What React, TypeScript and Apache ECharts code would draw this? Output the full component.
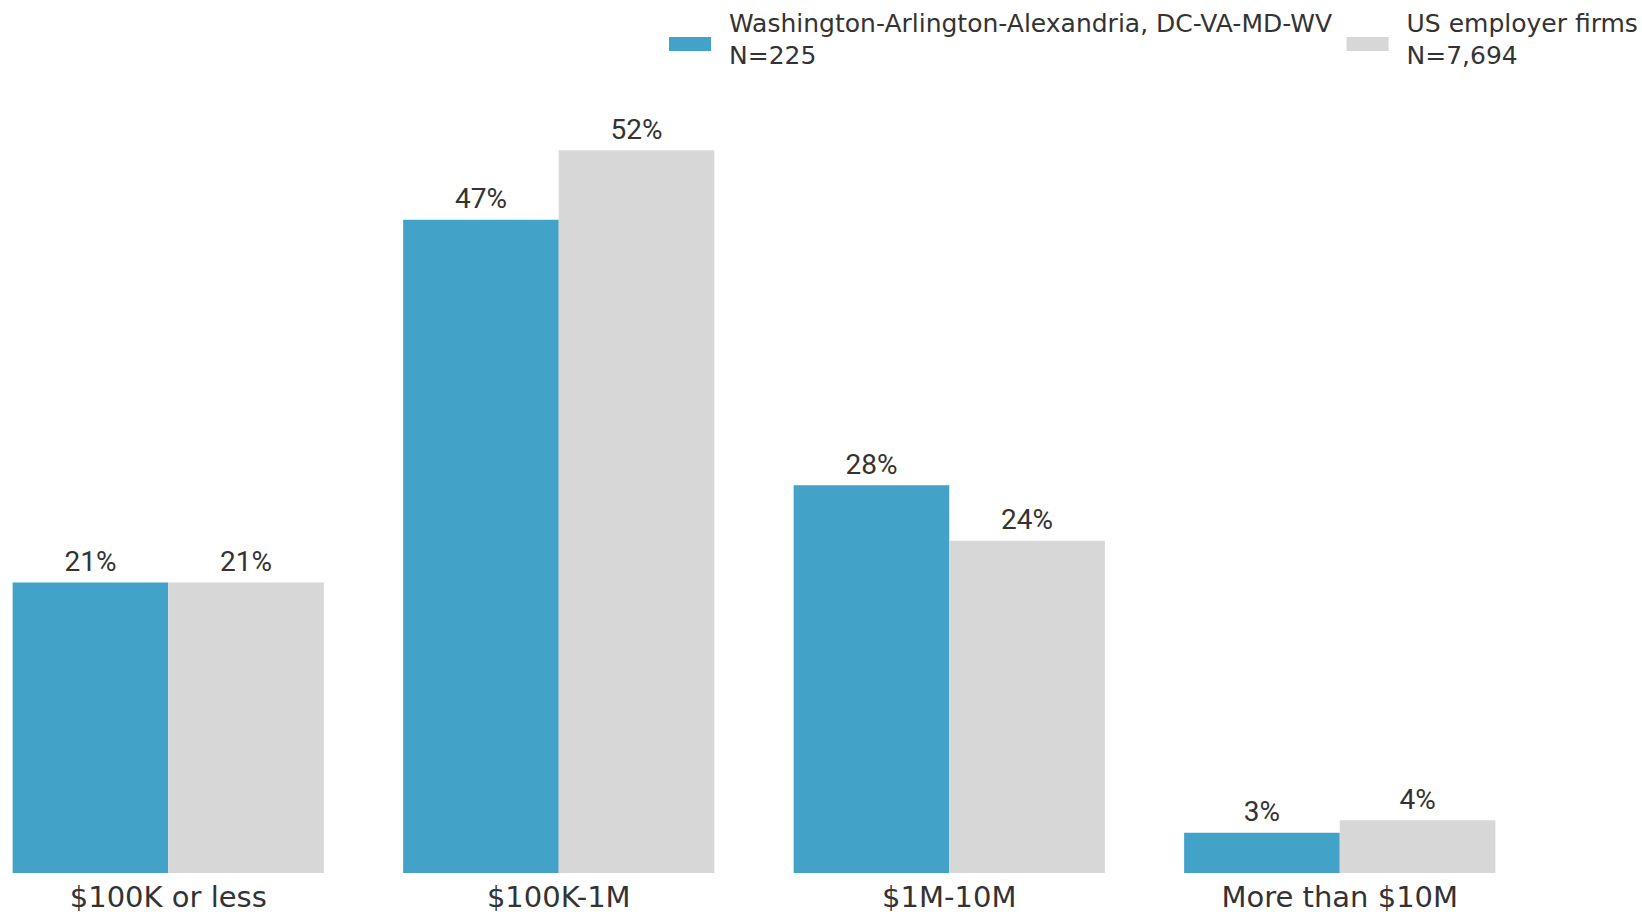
import React, { useEffect, useRef } from "react";
import * as echarts from "echarts";

const categories = ["$100K or less", "$100K-1M", "$1M-10M", "More than $10M"];
const seriesNames = [
  "Washington-Arlington-Alexandria, DC-VA-MD-WV\nN=225",
  "US employer firms\nN=7,694",
];
const washingtonValues = [20.9, 47.0, 27.9, 2.9];
const usValues = [20.9, 52.0, 23.9, 3.8];

const BLUE = "#43A2C7";
const GRAY = "#D7D7D7";
const TEXT = "#333333";
const SHIFT = 27;

export default function App() {
  const ref = useRef<HTMLDivElement>(null);
  useEffect(() => {
    if (!ref.current) return;
    const chart = echarts.init(ref.current, undefined, { renderer: "svg" });
    const label = {
      show: true,
      position: "top",
      distance: 7,
      color: TEXT,
      fontFamily: "Roboto",
      fontSize: 28,
      formatter: (p: any) => Math.round(p.value) + "%",
    };
    chart.setOption({
      animation: false,
      legend: {
        left: 669 + SHIFT,
        top: 10.5,
        padding: 0,
        itemWidth: 42,
        itemHeight: 14,
        itemGap: 14.5,
        icon: "rect",
        selectedMode: false,
        formatter: (name: string) =>
          name
            .split("\n")
            .map((l) => "{a|" + l + "}")
            .join("\n") + "\n{s| }",
        textStyle: {
          color: TEXT,
          fontFamily: "DejaVu Sans",
          fontSize: 25,
          padding: [0, 0, 0, 13],
          rich: {
            a: {
              color: TEXT,
              fontFamily: "DejaVu Sans",
              fontSize: 25,
              lineHeight: 32,
            },
            s: { fontSize: 1, lineHeight: 10 },
          },
        },
        data: seriesNames,
      },
      grid: { left: 0, right: 107, top: 39, bottom: 39, containLabel: false },
      xAxis: {
        type: "category",
        data: categories,
        axisLine: { show: false },
        axisTick: { show: false },
        axisLabel: {
          color: TEXT,
          fontFamily: "DejaVu Sans",
          fontSize: 29,
          margin: 9,
        },
      },
      yAxis: {
        type: "value",
        min: 0,
        max: 60,
        show: false,
        splitLine: { show: false },
      },
      series: [
        {
          name: seriesNames[0],
          type: "bar",
          data: washingtonValues,
          itemStyle: { color: BLUE },
          barGap: "0%",
          barCategoryGap: "20.3%",
          label,
        },
        {
          name: seriesNames[1],
          type: "bar",
          data: usValues,
          itemStyle: { color: GRAY },
          barGap: "0%",
          barCategoryGap: "20.3%",
          label,
        },
      ],
    });
    return () => chart.dispose();
  }, []);
  return (
    <div
      ref={ref}
      style={{
        position: "absolute",
        left: -SHIFT,
        top: 0,
        width: 1642 + SHIFT,
        height: 912,
        background: "#fff",
      }}
    />
  );
}
